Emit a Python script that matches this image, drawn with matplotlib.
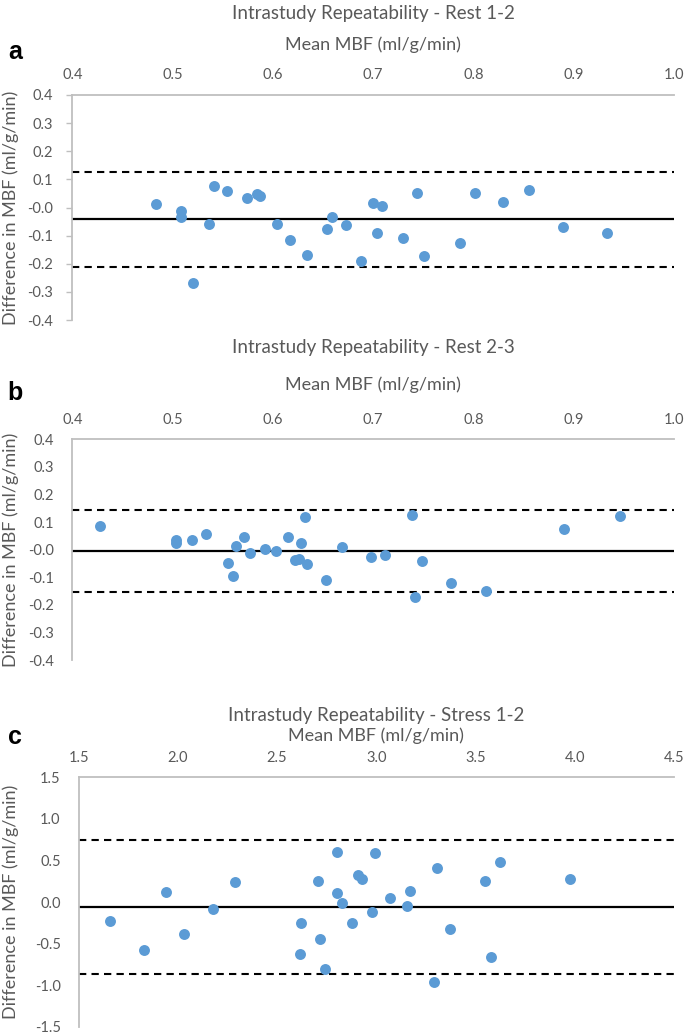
import matplotlib
matplotlib.use("Agg")
import matplotlib.pyplot as plt
import numpy as np

plt.rcParams['font.family'] = ['Lato', 'DejaVu Sans']

# Panel a: Rest 1-2
rest12_mean = [0.483, 0.508, 0.508, 0.520, 0.536, 0.541, 0.554, 0.574, 0.584, 0.587,
               0.604, 0.617, 0.634, 0.654, 0.659, 0.673, 0.688, 0.700, 0.704, 0.709,
               0.730, 0.744, 0.751, 0.787, 0.802, 0.829, 0.855, 0.889, 0.933]
rest12_diff = [0.012, -0.012, -0.035, -0.268, -0.058, 0.077, 0.060, 0.033, 0.047, 0.041,
               -0.058, -0.117, -0.168, -0.076, -0.033, -0.061, -0.191, 0.017, -0.089, 0.007,
               -0.108, 0.052, -0.172, -0.127, 0.053, 0.018, 0.062, -0.070, -0.089]
rest12_lines = [-0.042, 0.126, -0.211]  # bias, upper LoA, lower LoA

# Panel b: Rest 2-3
rest23_mean = [0.428, 0.503, 0.503, 0.519, 0.533, 0.555, 0.560, 0.563, 0.571, 0.577,
               0.592, 0.603, 0.615, 0.622, 0.626, 0.628, 0.632, 0.634, 0.653, 0.669,
               0.698, 0.712, 0.739, 0.749, 0.742, 0.778, 0.813, 0.890, 0.946]
rest23_diff = [0.085, 0.036, 0.025, 0.036, 0.055, -0.049, -0.096, 0.012, 0.045, -0.012,
               0.004, -0.006, 0.046, -0.039, -0.033, 0.025, 0.117, -0.052, -0.110, 0.011,
               -0.028, -0.021, 0.127, -0.040, -0.173, -0.120, -0.151, 0.074, 0.123]
rest23_lines = [-0.005, 0.145, -0.155]

# Panel c: Stress 1-2
stress12_mean = [1.658, 1.831, 1.938, 2.032, 2.177, 2.288, 2.620, 2.617, 2.708, 2.718,
                 2.743, 2.802, 2.801, 2.827, 2.878, 2.906, 2.930, 2.978, 2.995, 3.069,
                 3.155, 3.171, 3.307, 3.291, 3.370, 3.546, 3.622, 3.579, 3.978]
stress12_diff = [-0.231, -0.583, 0.126, -0.387, -0.086, 0.246, -0.250, -0.627, 0.258, -0.447,
                 -0.808, 0.603, 0.110, -0.014, -0.255, 0.322, 0.274, -0.118, 0.595, 0.046,
                 -0.050, 0.130, 0.411, -0.959, -0.322, 0.258, 0.487, -0.663, 0.274]
stress12_lines = [-0.056, 0.751, -0.863]

W, H = 685, 1032
fig = plt.figure(figsize=(W / 100, H / 100), dpi=100)

GRAY = '#595959'
AXIS = '#BFBFBF'
BLUE = '#5B9BD5'


def fy(py):
    return 1 - py / H


def panel(rect_px, xlim, ylim, xticks, yticks, fmt, mean, diff, lines,
          title, title_y, xlab_y, letter, letter_y, show_yticks):
    left, right, top, bottom = rect_px
    ax = fig.add_axes([left / W, fy(bottom), (right - left) / W, (bottom - top) / H])
    ax.scatter(mean, diff, s=62, color=BLUE, zorder=3, linewidths=0)
    ax.axhline(lines[0], color='black', lw=1.6, zorder=2)
    for v in lines[1:]:
        ax.axhline(v, color='black', lw=1.5, dashes=(3.5, 2.5), zorder=2)
    ax.set_xlim(*xlim)
    ax.set_ylim(*ylim)
    ax.set_xticks(xticks)
    ax.set_yticks(yticks)
    ax.set_xticklabels([fmt.format(t) for t in xticks])
    ax.set_yticklabels([fmt.format(t) for t in yticks])
    ax.xaxis.tick_top()
    for s in ['bottom', 'right']:
        ax.spines[s].set_visible(False)
    for s in ['top', 'left']:
        ax.spines[s].set_color(AXIS)
        ax.spines[s].set_linewidth(1.3)
    ax.tick_params(axis='x', length=0, pad=9, labelsize=10.5, labelcolor=GRAY)
    if show_yticks:
        ax.tick_params(axis='y', length=4, width=1, color=AXIS, pad=10,
                       labelsize=10.5, labelcolor=GRAY)
    else:
        ax.tick_params(axis='y', length=0, pad=13, labelsize=10.5, labelcolor=GRAY)
    cx = (left + right) / 2 / W
    fig.text(cx, fy(title_y), title, ha='center', va='center', fontsize=13.5, color=GRAY)
    fig.text(cx, fy(xlab_y), 'Mean MBF (ml/g/min)', ha='center', va='center',
             fontsize=13, color=GRAY)
    fig.text(15 / W, fy(letter_y), letter, ha='center', va='center', fontsize=18,
             fontweight='bold', color='black', family='Liberation Sans')
    fig.text(11 / W, fy((top + bottom) / 2), 'Difference in MBF (ml/g/min)', rotation=90,
             ha='center', va='center', fontsize=13, color=GRAY)
    return ax


panel((72.3, 674, 95, 320), (0.4, 1.0), (-0.4, 0.4),
      np.arange(0.4, 1.01, 0.1), np.arange(-0.4, 0.41, 0.1), '{:.1f}',
      rest12_mean, rest12_diff, rest12_lines,
      'Intrastudy Repeatability - Rest 1-2', 14, 45, 'a', 52, True)

panel((72.3, 674, 439.3, 660), (0.4, 1.0), (-0.4, 0.4),
      np.arange(0.4, 1.01, 0.1), np.arange(-0.4, 0.41, 0.1), '{:.1f}',
      rest23_mean, rest23_diff, rest23_lines,
      'Intrastudy Repeatability - Rest 2-3', 348, 385, 'b', 393, False)

panel((78.7, 674, 777.3, 1026.7), (1.5, 4.5), (-1.5, 1.5),
      np.arange(1.5, 4.51, 0.5), np.arange(-1.5, 1.51, 0.5), '{:.1f}',
      stress12_mean, stress12_diff, stress12_lines,
      'Intrastudy Repeatability - Stress 1-2', 716, 736, 'c', 737, False)

fig.savefig('out.png', dpi=100)
